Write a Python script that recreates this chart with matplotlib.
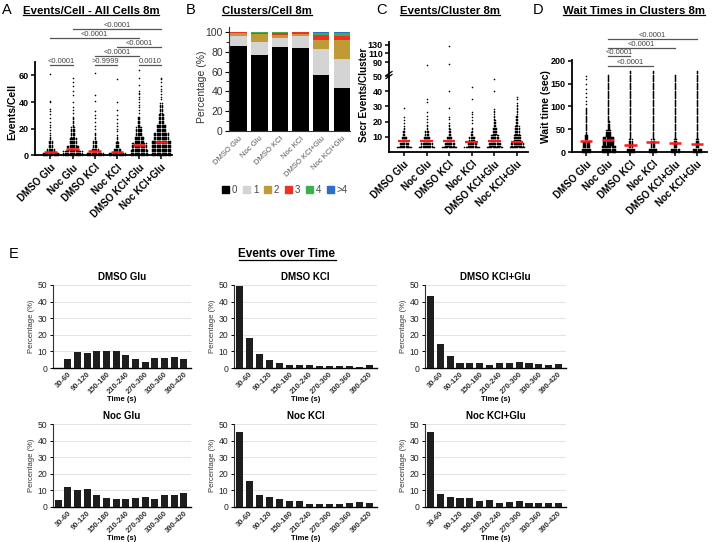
import numpy as np
import matplotlib
matplotlib.use('Agg')
import matplotlib.pyplot as plt
from matplotlib.patches import Patch
from matplotlib.lines import Line2D

plt.rcParams['font.family'] = ['Liberation Sans', 'DejaVu Sans']

# ---------------- data ----------------
groups = ['DMSO Glu', 'Noc Glu', 'DMSO KCl', 'Noc KCl', 'DMSO KCl+Glu', 'Noc KCl+Glu']

# Panel A: events per cell (swarm density bands [low, high, columns] + isolated points)
a_bands = [
    [[0, 3, 14], [3, 6, 6], [6, 12, 3], [12, 16, 1]],
    [[0, 4, 16], [4, 8, 10], [8, 14, 6], [14, 22, 3], [22, 30, 1]],
    [[0, 3, 14], [3, 6, 6], [6, 12, 3], [12, 18, 1]],
    [[0, 3, 14], [3, 6, 6], [6, 11, 3], [11, 16, 1]],
    [[0, 5, 14], [5, 10, 12], [10, 15, 8], [15, 22, 5], [22, 30, 2]],
    [[0, 6, 16], [6, 12, 16], [12, 18, 12], [18, 24, 8], [24, 32, 4], [32, 40, 2]],
]
a_outliers = [
    [17, 19, 21, 23, 25, 28, 31, 33, 35, 40, 41, 61],
    [32, 34, 36, 40, 45, 48, 52, 55, 58],
    [20, 22, 25, 28, 30, 33, 41, 45, 62],
    [18, 20, 22, 24, 27, 30, 34, 40, 57],
    [32, 34, 36, 38, 40, 42, 44, 46, 47, 48, 53, 58, 64],
    [42, 44, 46, 48, 50, 52, 55, 57, 58],
]
a_medians = [2.5, 5, 3, 2.5, 7.5, 10]
a_sig = [(0, 1, '<0.0001', 67.5), (2, 3, '>0.9999', 67.5), (4, 5, '0.0010', 67.5),
         (2, 4, '<0.0001', 74.3), (3, 5, '<0.0001', 81.1), (0, 4, '<0.0001', 87.9),
         (1, 5, '<0.0001', 94.7)]

# Panel B: clusters per cell (%)
b_levels = ['0', '1', '2', '3', '4', '>4']
b_0 = [86, 77, 85, 84, 57, 43]
b_1 = [10, 13, 9, 11.5, 26, 30]
b_2 = [3, 7.5, 3, 2.5, 9, 19]
b_3 = [0.7, 1.5, 2, 1.5, 4.5, 4]
b_4 = [0.2, 0.5, 0.5, 0.3, 2, 2.5]
b_gt4 = [0.1, 0.5, 0.5, 0.2, 1.5, 1.5]

# Panel C: secreted events per cluster
c_bands = [
    [[3, 4, 14], [4, 7, 8], [7, 11, 5], [11, 15, 2], [15, 18, 1]],
    [[3, 4, 14], [4, 7, 10], [7, 11, 6], [11, 15, 3], [15, 19, 1]],
    [[3, 4, 14], [4, 7, 9], [7, 11, 5], [11, 16, 2], [16, 20, 1]],
    [[3, 4, 14], [4, 7, 8], [7, 11, 5], [11, 14, 2], [14, 17, 1]],
    [[3, 4, 14], [4, 7, 11], [7, 12, 7], [12, 17, 4], [17, 22, 2], [22, 29, 1]],
    [[3, 4, 14], [4, 7, 11], [7, 12, 7], [12, 18, 4], [18, 25, 2], [25, 33, 1]],
]
c_outliers = [
    [19, 21, 23, 29],
    [20, 22, 24, 26, 33, 35, 84],
    [22, 23, 29, 40, 85, 128],
    [19, 21, 23, 25, 26, 35, 43],
    [40, 48],
    [35, 36],
]
c_medians = [7, 7.5, 7.5, 6.5, 7, 6.5]

# Panel D: wait times (sec)
d_bands = [
    [[0, 10, 9], [10, 25, 6], [25, 40, 3], [40, 100, 1]],
    [[0, 15, 13], [15, 35, 10], [35, 50, 5], [50, 70, 2], [70, 172, 1]],
    [[0, 10, 8], [10, 30, 3], [30, 178, 1]],
    [[0, 10, 8], [10, 30, 3], [30, 178, 1]],
    [[0, 10, 8], [10, 30, 3], [30, 172, 1]],
    [[0, 10, 8], [10, 30, 3], [30, 180, 1]],
]
d_outliers = [[105, 112, 120, 130, 138, 150, 160, 167], [], [], [], [], []]
d_medians = [24, 27, 16, 21, 19, 18]
d_sig = [(1, 3, '<0.0001', 189), (1, 2, '<0.0001', 211), (1, 4, '<0.0001', 228),
         (1, 5, '<0.0001', 248)]

# Panel E: events over time (%)
time_bins = ['0-30', '30-60', '60-90', '90-120', '120-150', '150-180', '180-210',
             '210-240', '240-270', '270-300', '300-330', '330-360', '360-390', '390-420']
e_titles = ['DMSO Glu', 'DMSO KCl', 'DMSO KCl+Glu', 'Noc Glu', 'Noc KCl', 'Noc KCl+Glu']
e_dmso_glu = [0, 5.2, 9.9, 9.1, 10.5, 10.5, 10.1, 8.1, 5.2, 3.6, 6.2, 6.2, 6.8, 5.6]
e_dmso_kcl = [49.4, 18.3, 8.7, 4.6, 3.0, 2.0, 1.6, 2.0, 1.4, 1.4, 1.2, 1.4, 0.4, 1.6]
e_dmso_kcl_glu = [43.3, 14.3, 7.3, 3.2, 2.8, 3.2, 2.0, 2.8, 2.8, 3.6, 3.2, 2.6, 2.0, 2.6]
e_noc_glu = [4.4, 12.0, 10.0, 11.0, 7.0, 5.4, 5.0, 5.0, 5.4, 6.2, 5.0, 7.2, 7.0, 8.4]
e_noc_kcl = [45.0, 15.9, 7.4, 6.0, 4.6, 3.6, 3.6, 2.0, 2.0, 2.0, 1.6, 2.2, 3.0, 2.2]
e_noc_kcl_glu = [45.0, 7.8, 6.0, 5.2, 5.4, 3.8, 4.0, 2.2, 2.8, 3.4, 2.5, 2.5, 2.3, 2.3]

# ---------------- figure ----------------
W, H = 712, 542
fig = plt.figure(figsize=(W / 100, H / 100), dpi=100)


def ax_at(l, t, r, b):
    return fig.add_axes([l / W, 1 - b / H, (r - l) / W, (b - t) / H])


def ftext(x, y, s, **kw):
    return fig.text(x / W, 1 - y / H, s, **kw)


def swarm(ax, xc, bands, outliers, step, dx, ms=1.15):
    xs, ys = [], []
    for lo, hi, n in bands:
        v = lo
        while v < hi - 1e-9:
            for k in range(n):
                xs.append(xc + (k - (n - 1) / 2) * dx)
                ys.append(v)
            v += step
    for v in outliers:
        xs.append(xc)
        ys.append(v)
    ax.plot(xs, ys, 'o', ms=ms, mew=0, color='black', clip_on=False, zorder=3)


def style_dot_ax(ax, xlim):
    for s in ['top', 'right']:
        ax.spines[s].set_visible(False)
    for s in ['left', 'bottom']:
        ax.spines[s].set_linewidth(1.3)
    ax.set_xlim(*xlim)
    ax.set_xticks(range(6))
    ax.set_xticklabels(groups, rotation=45, ha='right', rotation_mode='anchor',
                       fontsize=7, fontweight='bold')
    ax.tick_params(axis='x', length=3, width=1.1, pad=2)
    ax.tick_params(axis='y', length=3, width=1.1, labelsize=6.5, pad=1.5)
    for l in ax.get_yticklabels():
        l.set_fontweight('bold')


def sig(ax, i, j, y, txt):
    ax.plot([i, j], [y, y], color='#555555', lw=0.9, clip_on=False)
    ax.annotate(txt, xy=((i + j) / 2, y), xytext=(0, 0.2), textcoords='offset points',
                ha='center', va='bottom', fontsize=5.5, color='#444444',
                annotation_clip=False)


# ---- Panel A ----
axA = ax_at(35, 62, 172, 155.5)
axA.set_ylim(0, 70)
axA.set_yticks([0, 20, 40, 60])
style_dot_ax(axA, (-0.7, 5.5))
for i in range(6):
    swarm(axA, i, a_bands[i], a_outliers[i], 1, 0.055)
    axA.hlines(a_medians[i], i - 0.28, i + 0.28, color='#ff1a1a', lw=1.8, zorder=5)
for i, j, t, y in a_sig:
    sig(axA, i, j, y, t)
ftext(12, 112, 'Events/Cell', rotation=90, ha='center', va='center', fontsize=7.5,
      fontweight='bold')

# ---- Panel B ----
axB = ax_at(229, 27, 350, 131)
b_colors = ['#000000', '#d4d4d4', '#bf9a36', '#ee3127', '#3db04b', '#2d6ec9']
bottom = np.zeros(6)
for vals, col in zip([b_0, b_1, b_2, b_3, b_4, b_gt4], b_colors):
    axB.bar(range(6), vals, bottom=bottom, width=0.8, color=col, edgecolor='none')
    bottom += np.array(vals)
axB.set_ylim(0, 105)
axB.set_xlim(-0.47, 5.4)
axB.set_yticks(range(0, 101, 20))
axB.set_yticks(range(10, 100, 20), minor=True)
for s in ['top', 'right']:
    axB.spines[s].set_visible(False)
for s in ['left', 'bottom']:
    axB.spines[s].set_color('#333333')
    axB.spines[s].set_linewidth(0.8)
axB.set_xticks(range(6))
axB.set_xticklabels(groups, rotation=45, ha='right', rotation_mode='anchor',
                    fontsize=5.5, color='#555555')
axB.tick_params(axis='x', length=0, pad=3)
axB.tick_params(axis='y', which='major', length=3, width=0.8, labelsize=7.5,
                labelcolor='#333333', pad=1.5)
axB.tick_params(axis='y', which='minor', length=2, width=0.6)
ftext(202, 87, 'Percentage (%)', rotation=90, ha='center', va='center', fontsize=7.5,
      color='#333333')
handles = [Patch(color=c) for c in b_colors]
fig.legend(handles, b_levels, loc='center', bbox_to_anchor=(285 / W, 1 - 190 / H),
           ncol=6, frameon=False, fontsize=7, handlelength=0.7, handleheight=0.7,
           handletextpad=0.3, columnspacing=0.6, borderpad=0, labelcolor='#444444')

# ---- Panel C ----
axC = ax_at(389, 76, 528, 152)
axC.set_ylim(0, 50)
axC.set_yticks([10, 20, 30, 40, 50])
style_dot_ax(axC, (-0.66, 5.49))
axCu = ax_at(389, 42, 528, 74)
axCu.set_ylim(61.8, 137)
axCu.set_xlim(-0.66, 5.49)
axCu.set_yticks([90, 110, 130])
for s in ['top', 'right', 'bottom']:
    axCu.spines[s].set_visible(False)
axCu.spines['left'].set_linewidth(1.3)
axCu.set_xticks([])
axCu.tick_params(axis='y', length=3, width=1.1, labelsize=6.5, pad=1.5)
for l in axCu.get_yticklabels():
    l.set_fontweight('bold')
axCu.patch.set_alpha(0)
for i in range(6):
    low = [v for v in c_outliers[i] if v <= 50]
    high = [v for v in c_outliers[i] if v > 50]
    swarm(axC, i, c_bands[i], low, 1, 0.05)
    if high:
        axCu.plot([i] * len(high), high, 'o', ms=1.15, mew=0, color='black')
    axC.hlines(c_medians[i], i - 0.28, i + 0.28, color='#ff1a1a', lw=1.6, zorder=5)
for dy in (-1.5, 1.5):
    fig.add_artist(Line2D([(389 - 3) / W, (389 + 3) / W],
                          [1 - (75 + dy + 2) / H, 1 - (75 + dy - 2) / H],
                          color='black', lw=0.9))
ftext(364, 95, 'Secr Events/Cluster', rotation=90, ha='center', va='center',
      fontsize=7.2, fontweight='bold')

# ---- Panel D ----
axD = ax_at(572, 60, 707, 152)
axD.set_ylim(0, 202)
axD.set_yticks([0, 50, 100, 150, 200])
style_dot_ax(axD, (-0.63, 5.45))
for i in range(6):
    swarm(axD, i, d_bands[i], d_outliers[i], 2.5, 0.05)
    axD.hlines(d_medians[i], i - 0.28, i + 0.28, color='#ff1a1a', lw=1.8, zorder=5)
for i, j, t, y in d_sig:
    sig(axD, i, j, y, t)
ftext(546, 107, 'Wait time (sec)', rotation=90, ha='center', va='center', fontsize=7.5,
      fontweight='bold')

# ---- titles ----
under = []
for lx, letter, cx, title in [(2, 'A', 91, 'Events/Cell - All Cells 8m'),
                              (186, 'B', 267, 'Clusters/Cell 8m'),
                              (376, 'C', 450, 'Events/Cluster 8m'),
                              (533, 'D', 634, 'Wait Times in Clusters 8m')]:
    ftext(lx, 10, letter, ha='left', va='center', fontsize=10.5)
    under.append(ftext(cx, 10.5, title, ha='center', va='center', fontsize=8.2,
                       fontweight='bold'))
ftext(9, 254, 'E', ha='left', va='center', fontsize=10.5)
under.append(ftext(287, 254, 'Events over Time', ha='center', va='center', fontsize=8.5,
                   fontweight='bold'))

# ---- Panel E ----
e_values = [e_dmso_glu, e_dmso_kcl, e_dmso_kcl_glu, e_noc_glu, e_noc_kcl, e_noc_kcl_glu]
e_rects = [(53, 285, 191, 368), (234, 285, 377, 368), (425, 285, 566, 368),
           (53, 424, 191, 507), (234, 424, 377, 507), (425, 424, 566, 507)]
for title, vals, rc in zip(e_titles, e_values, e_rects):
    ax = ax_at(*rc)
    ax.bar(range(len(time_bins)), vals, width=0.72, color='#1e1e1e', zorder=3)
    ax.set_ylim(0, 50)
    ax.set_xlim(-0.55, 13.75)
    ax.set_yticks(range(0, 51, 10))
    ax.yaxis.grid(True, color='#dedede', lw=0.6)
    ax.set_axisbelow(True)
    for s in ['top', 'right']:
        ax.spines[s].set_visible(False)
    ax.spines['left'].set_color('#333333')
    ax.spines['left'].set_linewidth(0.8)
    ax.spines['bottom'].set_linewidth(1.0)
    ax.set_xticks(range(1, len(time_bins), 2))
    ax.set_xticklabels(time_bins[1::2], rotation=45, ha='right', rotation_mode='anchor',
                       fontsize=5.5, fontweight='bold', color='#333333')
    ax.tick_params(axis='x', length=0, pad=2)
    ax.tick_params(axis='y', length=2.5, width=0.7, labelsize=6.2, pad=1.5,
                   labelcolor='#222222')
    ax.set_title(title, fontsize=7, fontweight='bold', pad=3.5)
    ax.set_xlabel('Time (s)', fontsize=5.5, fontweight='bold', labelpad=0.5)
    ax.set_ylabel('Percentage (%)', fontsize=5.5, labelpad=2, color='#333333')

# ---- underline titles ----
fig.canvas.draw()
r = fig.canvas.get_renderer()
for t in under:
    bb = t.get_window_extent(r)
    y = bb.y0 + 0.5
    fig.add_artist(Line2D([bb.x0 / W, bb.x1 / W], [y / H, y / H], color='black', lw=0.9))

fig.savefig('out.png', dpi=100)
